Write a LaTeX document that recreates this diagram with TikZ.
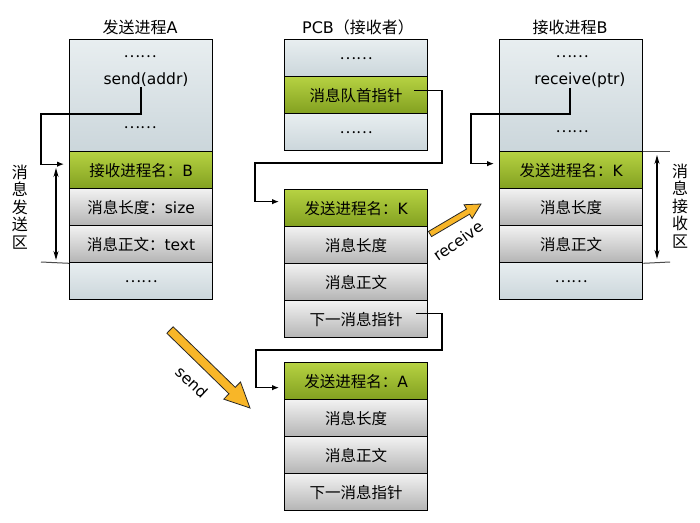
\documentclass[tikz,border=0pt]{standalone}
\usepackage{fontspec}
\setmainfont{DejaVu Sans}
\newfontfamily\cjk{Noto Sans CJK SC}
\usetikzlibrary{arrows.meta,calc}
\definecolor{blueA}{HTML}{E8EEF0}
\definecolor{blueB}{HTML}{CBD6DB}
\definecolor{greenA}{HTML}{B6D242}
\definecolor{greenB}{HTML}{82A020}
\definecolor{grayA}{HTML}{F2F2F2}
\definecolor{grayB}{HTML}{B4B4B4}
\definecolor{arrowO}{HTML}{F8B628}
\begin{document}
\begin{tikzpicture}[x=1pt,y=-1pt,
 cell/.style={draw=black,line width=1.3pt,minimum width=143pt,minimum height=37pt,anchor=north west,inner sep=0pt,font=\fontsize{15.5}{17}\selectfont},
 topc/.style={cell,top color=blueA,bottom color=blueB},
 greenc/.style={cell,top color=greenA,bottom color=greenB},
 grayc/.style={cell,top color=grayA,bottom color=grayB},
 txt/.style={inner sep=0pt,font=\fontsize{15.5}{17}\selectfont},
 ttl/.style={inner sep=0pt,font=\fontsize{16}{18}\selectfont},
 conn/.style={draw=black,line width=1.2pt,-{Latex[length=7pt,width=5.5pt]},shorten >=5pt},
 dimarr/.style={draw=black,line width=1.2pt,{Stealth[length=9pt,width=5pt]}-{Stealth[length=9pt,width=5pt]}},
 guide/.style={draw=black!70,line width=1pt},
 vtext/.style={align=center,inner sep=0pt,font=\fontsize{16}{17.5}\selectfont\cjk},
 bigarrow/.style={fill=arrowO,draw=black!85,line width=0.8pt,line join=miter},
 arrowlbl/.style={inner sep=0pt,font=\fontsize{15.5}{16}\selectfont},
]
\useasboundingbox[fill=white] (0,0) rectangle (700,522);

% ---------- sending process A ----------
\node[ttl] (tA) at (140,27) {{\cjk 发送进程}A};
\node[topc,minimum height=112pt] (A0) at (69,39) {};
\node[greenc] (A1) at (69,151) {{\cjk 接收进程名：}B};
\node[grayc] (A2) at (69,188) {{\cjk 消息长度：}size};
\node[grayc] (A3) at (69,225) {{\cjk 消息正文：}text};
\node[topc] (A4) at (69,262) {\cjk ……};
\node[txt] (A0d1) at (140,57) {\cjk ……};
\node[txt] (sendt) at (146,80) {send(addr)};
\node[txt] (A0d2) at (140,128) {\cjk ……};

\draw[conn] ([xshift=-5pt]sendt.south) |- (41,114) |- ([yshift=6pt]A1.west);
\coordinate (lt) at (56,168);
\coordinate (lb) at (56,260);
\draw[dimarr] (lt) -- (lb);
\coordinate (lg) at (41,262);
\draw[guide] (lg) -- (A3.south west);
\node[vtext] (lsend) at (20,207) {消\\息\\发\\送\\区};

% ---------- PCB ----------
\node[ttl] (tP) at (358,27) {PCB{\cjk （接收者）}};
\node[topc] (P0) at (284,39) {\cjk ……};
\node[greenc] (P1) at (284,76) {\cjk 消息队首指针};
\node[topc] (P2) at (284,113) {\cjk ……};

% ---------- message 1 ----------
\node[greenc] (M1a) at (284,189) {{\cjk 发送进程名：}K};
\node[grayc] (M1b) at (284,226) {\cjk 消息长度};
\node[grayc] (M1c) at (284,263) {\cjk 消息正文};
\node[grayc] (M1d) at (284,300) {\cjk 下一消息指针};

% ---------- message 2 ----------
\node[greenc] (M2a) at (284,362) {{\cjk 发送进程名：}A};
\node[grayc] (M2b) at (284,399) {\cjk 消息长度};
\node[grayc] (M2c) at (284,436) {\cjk 消息正文};
\node[grayc] (M2d) at (284,473) {\cjk 下一消息指针};

\draw[conn] ([xshift=-14pt,yshift=4.5pt]P1.east) -| (442,163) -- (255,163) |- ([yshift=6.5pt]M1a.west);
\draw[conn] ([xshift=-12pt,yshift=5.5pt]M1d.east) -| (442,350) -- (256,350) |- ([yshift=-6.5pt]M2a.west);

% ---------- receiving process B ----------
\node[ttl] (tB) at (570,27) {{\cjk 接收进程}B};
\node[topc,minimum height=112pt] (R0) at (499,39) {};
\node[greenc] (R1) at (499,151) {{\cjk 发送进程名：}K};
\node[grayc] (R2) at (499,188) {\cjk 消息长度};
\node[grayc] (R3) at (499,225) {\cjk 消息正文};
\node[topc] (R4) at (499,262) {\cjk ……};
\node[txt] (R0d1) at (572,57) {\cjk ……};
\node[txt] (recvt) at (580,80) {receive(ptr)};
\node[txt] (R0d2) at (572,132) {\cjk ……};

\draw[conn] ([xshift=-10pt]recvt.south) |- (471,114) |- ([yshift=6.5pt]R1.west);
\coordinate (rg1) at (670,151);
\coordinate (rg2) at (670,262);
\draw[guide] (R1.north east) -- (rg1);
\draw[guide] (R3.south east) -- (rg2);
\coordinate (rt) at (657,155);
\coordinate (rbt) at (657,259);
\draw[dimarr] (rt) -- (rbt);
\node[vtext] (lrecv) at (680,206) {消\\息\\接\\收\\区};

% ---------- big arrows ----------
\coordinate (sa) at (170,330);
\coordinate (sb) at (250,408);
\coordinate (sm) at ($(sb)!25pt!(sa)$);
\draw[bigarrow] ($(sa)!4.5pt!90:(sb)$) -- ($(sm)!4.5pt!90:(sb)$) -- ($(sm)!12pt!90:(sb)$) -- (sb)
  -- ($(sm)!12pt!-90:(sb)$) -- ($(sm)!4.5pt!-90:(sb)$) -- ($(sa)!4.5pt!-90:(sb)$) -- cycle;
\node[arrowlbl,rotate=-43] (sendl) at (192,382) {send};

\coordinate (ra) at (430,234);
\coordinate (rb) at (481,204);
\coordinate (rm) at ($(rb)!15pt!(ra)$);
\draw[bigarrow] ($(ra)!3pt!90:(rb)$) -- ($(rm)!3pt!90:(rb)$) -- ($(rm)!8pt!90:(rb)$) -- (rb)
  -- ($(rm)!8pt!-90:(rb)$) -- ($(rm)!3pt!-90:(rb)$) -- ($(ra)!3pt!-90:(rb)$) -- cycle;
\node[arrowlbl,rotate=35] (recvl) at (458,241) {receive};
\end{tikzpicture}
\end{document}
